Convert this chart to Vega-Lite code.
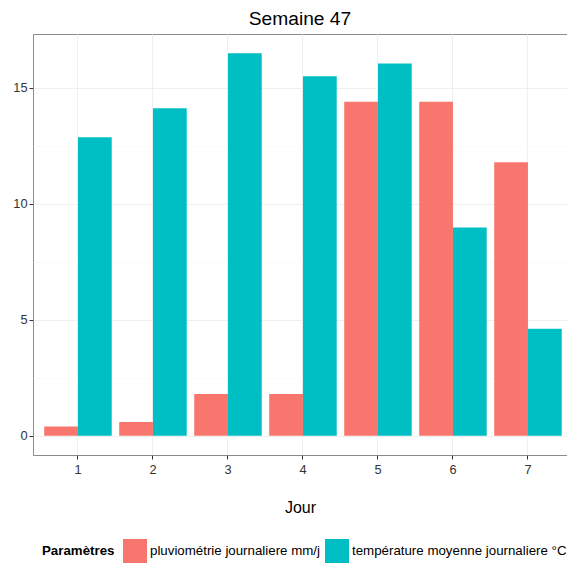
{
  "$schema": "https://vega.github.io/schema/vega-lite/v6.json",
  "autosize": {"type": "none"},
  "padding": {"left": 33, "top": 34, "right": 0, "bottom": 108},
  "width": 534,
  "height": 421,
  "background": "white",
  "title": {"text": "Semaine 47", "fontSize": 19.2, "fontWeight": "normal", "color": "black", "offset": 5, "anchor": "middle"},
  "config": {
    "font": "Liberation Sans",
    "view": {"stroke": "#8c8c8c", "strokeWidth": 1}
  },
  "data": {"values": [
    {"jour": "1", "param": "pluviométrie journaliere mm/j", "valeur": 0.4},
    {"jour": "2", "param": "pluviométrie journaliere mm/j", "valeur": 0.6},
    {"jour": "3", "param": "pluviométrie journaliere mm/j", "valeur": 1.8},
    {"jour": "4", "param": "pluviométrie journaliere mm/j", "valeur": 1.8},
    {"jour": "5", "param": "pluviométrie journaliere mm/j", "valeur": 14.4},
    {"jour": "6", "param": "pluviométrie journaliere mm/j", "valeur": 14.4},
    {"jour": "7", "param": "pluviométrie journaliere mm/j", "valeur": 11.8},
    {"jour": "1", "param": "température moyenne journaliere °C", "valeur": 12.87},
    {"jour": "2", "param": "température moyenne journaliere °C", "valeur": 14.12},
    {"jour": "3", "param": "température moyenne journaliere °C", "valeur": 16.5},
    {"jour": "4", "param": "température moyenne journaliere °C", "valeur": 15.5},
    {"jour": "5", "param": "température moyenne journaliere °C", "valeur": 16.05},
    {"jour": "6", "param": "température moyenne journaliere °C", "valeur": 8.98},
    {"jour": "7", "param": "température moyenne journaliere °C", "valeur": 4.62}
  ]},
  "mark": {"type": "bar"},
  "encoding": {
    "x": {
      "field": "jour", "type": "ordinal",
      "scale": {"paddingInner": 0.1, "paddingOuter": 0.11, "align": 0.68},
      "axis": {
        "title": "Jour", "titleFontSize": 16, "titleFontWeight": "normal", "titleColor": "black", "titlePadding": 24,
        "labelAngle": 0, "labelFontSize": 12.8, "labelColor": "#333333", "labelPadding": 4,
        "tickSize": 4, "tickColor": "#333333", "domain": false,
        "grid": true, "gridColor": "#efefef"
      }
    },
    "xOffset": {"field": "param", "type": "nominal", "scale": {"paddingInner": 0, "paddingOuter": 0}},
    "y": {
      "field": "valeur", "type": "quantitative",
      "scale": {"domain": [-0.825, 17.325], "nice": false, "zero": false},
      "axis": {
        "title": null,
        "values": [0, 2.5, 5, 7.5, 10, 12.5, 15],
        "labelExpr": "datum.value % 5 === 0 ? datum.label : ''",
        "labelFontSize": 12.8, "labelColor": "#333333", "labelPadding": 2,
        "tickSize": 4, "tickColor": "#333333",
        "tickOpacity": {"condition": {"test": "datum.value % 5 !== 0", "value": 0}, "value": 1},
        "domain": false,
        "grid": true,
        "gridColor": {"condition": {"test": "datum.value % 5 === 0", "value": "#efefef"}, "value": "#fafafa"}
      }
    },
    "color": {
      "field": "param", "type": "nominal",
      "scale": {"range": ["#F8766D", "#00BFC4"]},
      "legend": {
        "title": "Paramètres", "orient": "none", "legendX": 9, "legendY": 505,
        "direction": "horizontal", "titleOrient": "left",
        "titleFontSize": 13.3, "titleFontWeight": "bold", "titleColor": "black", "titlePadding": 8,
        "labelFontSize": 13.3, "labelColor": "black", "labelOffset": 3, "columnPadding": 5,
        "symbolType": "square", "symbolSize": 576, "symbolStrokeWidth": 0, "symbolOpacity": 1,
        "padding": 0, "labelLimit": 400
      }
    }
  }
}
